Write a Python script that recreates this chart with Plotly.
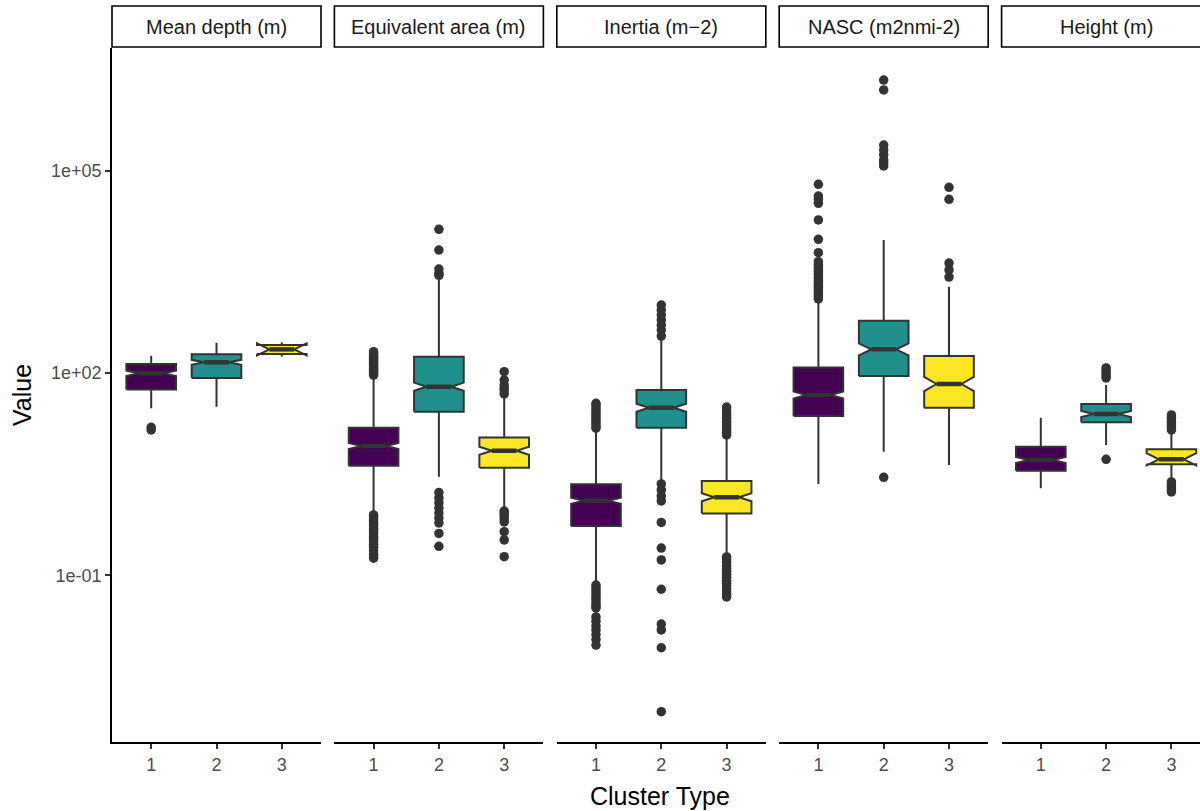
import plotly.graph_objects as go

# ---------------- data ----------------
panel_names = ["Mean depth (m)", "Equivalent area (m)", "Inertia (m\u22122)", "NASC (m2nmi-2)", "Height (m)"]
clusters = [1, 2, 3]
cluster_colors = ["#440154", "#21908C", "#FDE725"]

# per panel: values for clusters 1, 2, 3
q1_vals = [
    [57, 84, 191],
    [4.24, 26.7, 3.95],
    [0.54, 15.5, 0.83],
    [23.1, 90.3, 30.6],
    [3.57, 18.6, 4.44],
]
median_vals = [
    [99, 144, 224],
    [8.3, 62.7, 7.06],
    [1.28, 30.6, 1.44],
    [47.2, 224, 68.7],
    [5.14, 24.7, 5.26],
]
q3_vals = [
    [136, 189, 260],
    [15.5, 174, 11.1],
    [2.24, 56, 2.51],
    [121, 596, 179],
    [8.09, 34.8, 7.41],
]
lower_whisker = [
    [30, 31.6, 175],
    [0.83, 2.91, 0.99],
    [0.077, 2.45, 0.2],
    [2.27, 6.82, 4.33],
    [1.96, 8.58, 2.78],
]
upper_whisker = [
    [180, 281, 285],
    [83, 2390, 44.6],
    [14.8, 308, 11.3],
    [1205, 9330, 1900],
    [21.8, 66.4, 12.8],
]
# notch half-span in log10 units (computed on log scale, as in ggplot)
notch_log = [
    [0.04, 0.037, 0.09],
    [0.045, 0.06, 0.06],
    [0.045, 0.06, 0.06],
    [0.052, 0.09, 0.105],
    [0.045, 0.045, 0.09],
]
outliers = [
    [  # Mean depth
        [15.7, 14.3],
        [],
        [],
    ],
    [  # Equivalent area
        [93, 98, 104, 110, 117, 124, 131, 139, 147, 156, 166, 176, 186, 197, 207,
         0.79, 0.74, 0.69, 0.64, 0.59, 0.55, 0.5, 0.46, 0.42, 0.38, 0.35, 0.32, 0.29, 0.26, 0.23, 0.2, 0.18],
        [2800, 3000, 3470, 6640, 13450,
         1.69, 1.41, 1.19, 1.0, 0.84, 0.71, 0.6, 0.42, 0.27],
        [48.9, 56, 60, 66.4, 78.7, 104.5,
         0.9, 0.83, 0.77, 0.69, 0.62, 0.445, 0.336, 0.19],
    ],
    [  # Inertia
        [15.2, 16.5, 18, 19.6, 21.4, 23.3, 25.4, 27.7, 30.2, 32.9, 35.6,
         0.072, 0.066, 0.06, 0.055, 0.05, 0.046, 0.042, 0.038, 0.035, 0.033,
         0.0243, 0.021, 0.018, 0.0156, 0.0133, 0.0113, 0.0093],
        [353, 433, 514, 610, 722, 857, 1016,
         2.27, 1.85, 1.51, 1.27, 0.61, 0.255, 0.17, 0.0625, 0.0191, 0.0156, 0.0085, 0.00096],
        [12.1, 13.3, 14.6, 16, 17.6, 19.3, 21.2, 23.3, 25.6, 28.2, 31.3,
         0.188, 0.17, 0.154, 0.14, 0.127, 0.115, 0.104, 0.094, 0.085, 0.077, 0.07, 0.063, 0.057, 0.052, 0.048],
    ],
    [  # NASC
        [1250, 1350, 1460, 1580, 1710, 1850, 2000, 2170, 2350, 2540, 2750, 2980, 3220, 3490, 3780, 4100, 4460,
         6050, 9570, 18500, 32700, 37500, 41900, 62500],
        [117000, 130000, 143000, 170000, 201000, 238000, 1560000, 2190000,
         2.85],
        [2640, 3360, 4260, 37400, 56400],
    ],
    [  # Height
        [],
        [84.3, 92, 100, 109, 119, 5.26],
        [14.3, 15.6, 17, 18.5, 20.1, 22, 23.9,
         2.43, 2.2, 2.05, 1.88, 1.73],
    ],
]

y_tick_vals = [0.1, 100, 100000]
y_tick_text = ["1e-01", "1e+02", "1e+05"]

# ---------------- layout geometry / style ----------------
W, H = 1200, 811
LEFT, TOP, BOTTOM = 112, 48, 742
PANEL_W, PANEL_STEP = 209, 222.4
PLOT_W = W - LEFT
PLOT_H = BOTTOM - TOP
X_LO, X_HI = 0.4, 3.6
PX_PER_UNIT = PANEL_W / (X_HI - X_LO)
BOX_HALF = 0.38          # half box width (x units)
NOTCH_FRAC = 0.5         # notch narrows box to this fraction

FONT = "Liberation Sans, Arial, Helvetica, sans-serif"
DARK = "#333333"

fig = go.Figure()
layout_axes = {}
shapes = []
annotations = []

for p, name in enumerate(panel_names):
    x0 = LEFT + p * PANEL_STEP
    x1 = min(x0 + PANEL_W, W)
    d0 = (x0 - LEFT) / PLOT_W
    d1 = (x1 - LEFT) / PLOT_W
    xr = [X_LO, X_LO + (x1 - x0) / PX_PER_UNIT]
    sfx = "" if p == 0 else str(p + 1)
    xa = "x" + sfx
    ya = "y" + sfx

    for c in range(3):
        xc = clusters[c]
        q1 = q1_vals[p][c]
        q3 = q3_vals[p][c]
        med = median_vals[p][c]
        lo = lower_whisker[p][c]
        hi = upper_whisker[p][c]
        ln = med * 10 ** (-notch_log[p][c])
        un = med * 10 ** (notch_log[p][c])
        hw = BOX_HALF
        nw = BOX_HALF * NOTCH_FRAC

        # whiskers
        fig.add_trace(go.Scatter(
            x=[xc, xc, None, xc, xc], y=[lo, q1, None, q3, hi],
            mode="lines", line=dict(color=DARK, width=2),
            xaxis=xa, yaxis=ya, showlegend=False, hoverinfo="skip",
        ))
        # notched box
        bx = [xc - hw, xc - hw, xc - nw, xc - hw, xc - hw, xc + hw, xc + hw, xc + nw, xc + hw, xc + hw, xc - hw]
        by = [q1, ln, med, un, q3, q3, un, med, ln, q1, q1]
        fig.add_trace(go.Scatter(
            x=bx, y=by, mode="lines", fill="toself", fillcolor=cluster_colors[c],
            line=dict(color=DARK, width=2), xaxis=xa, yaxis=ya,
            showlegend=False, hoverinfo="skip",
        ))
        # median (thick)
        fig.add_trace(go.Scatter(
            x=[xc - nw, xc + nw], y=[med, med], mode="lines",
            line=dict(color=DARK, width=4.5), xaxis=xa, yaxis=ya,
            showlegend=False, hoverinfo="skip",
        ))
        outs = outliers[p][c]
        if outs:
            fig.add_trace(go.Scatter(
                x=[xc] * len(outs), y=outs, mode="markers",
                marker=dict(size=9.5, color=DARK, line=dict(width=0)),
                xaxis=xa, yaxis=ya, showlegend=False, hoverinfo="skip",
            ))

    layout_axes["xaxis" + sfx] = dict(
        domain=[d0, d1], range=xr, anchor=ya,
        tickvals=clusters, ticktext=[str(c) for c in clusters],
        ticks="outside", ticklen=5, tickwidth=1.5, tickcolor=DARK,
        showline=True, linecolor="black", linewidth=1.8,
        showgrid=False, zeroline=False,
        tickfont=dict(family=FONT, size=18, color="#4d4d4d"),
        fixedrange=True,
    )
    yax = dict(
        type="log", range=[-3.467, 6.815], anchor=xa, domain=[0, 1],
        showgrid=False, zeroline=False, fixedrange=True,
    )
    if p == 0:
        yax.update(
            tickvals=y_tick_vals, ticktext=y_tick_text,
            ticks="outside", ticklen=5, tickwidth=1.5, tickcolor=DARK,
            showline=True, linecolor="black", linewidth=1.8,
            tickfont=dict(family=FONT, size=18, color="#4d4d4d"),
        )
    else:
        yax.update(matches="y", showticklabels=False, ticks="", showline=False)
    layout_axes["yaxis" + sfx] = yax

    # strip
    sy0 = (BOTTOM - 47) / PLOT_H
    sy1 = (BOTTOM - 6) / PLOT_H
    sx1 = d1 if x1 < W else 1.01
    shapes.append(dict(type="rect", xref="paper", yref="paper",
                       x0=d0, x1=sx1, y0=sy0, y1=sy1,
                       line=dict(color="black", width=1.6), fillcolor="white"))
    annotations.append(dict(text=name, xref="paper", yref="paper",
                            x=(x0 + PANEL_W / 2 - LEFT) / PLOT_W,
                            y=(BOTTOM - 27) / PLOT_H, showarrow=False,
                            xanchor="center", yanchor="middle",
                            font=dict(family=FONT, size=20, color="#1a1a1a")))

annotations.append(dict(text="Value", xref="paper", yref="paper",
                        x=(22 - LEFT) / PLOT_W, y=(BOTTOM - 395) / PLOT_H,
                        textangle=-90, showarrow=False, xanchor="center", yanchor="middle",
                        font=dict(family=FONT, size=25, color="black")))
annotations.append(dict(text="Cluster Type", xref="paper", yref="paper",
                        x=(660 - LEFT) / PLOT_W, y=(BOTTOM - 796) / PLOT_H,
                        showarrow=False, xanchor="center", yanchor="middle",
                        font=dict(family=FONT, size=25, color="black")))

fig.update_layout(
    width=W, height=H,
    margin=dict(l=LEFT, r=0, t=TOP, b=H - BOTTOM, pad=0),
    paper_bgcolor="white", plot_bgcolor="white",
    shapes=shapes, annotations=annotations,
    **layout_axes,
)

fig.write_html("out.html", config={"displayModeBar": False})
